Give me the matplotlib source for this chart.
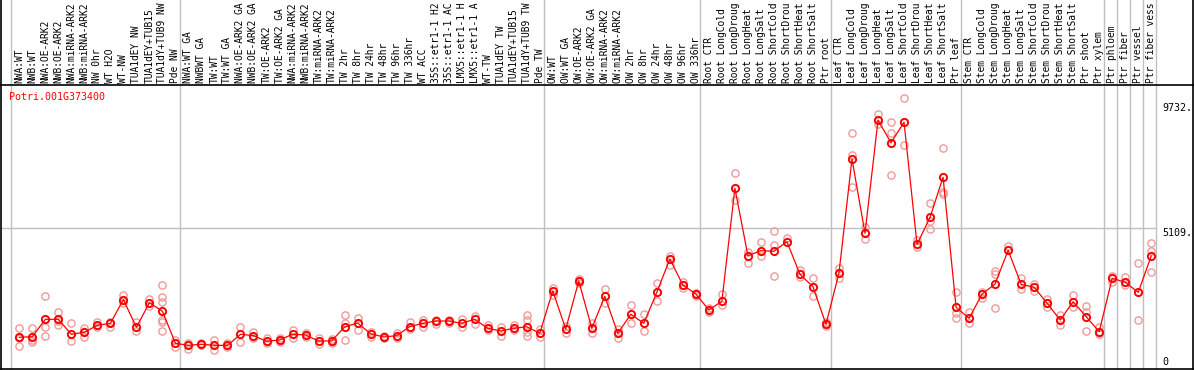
import numpy as np
import matplotlib
matplotlib.use("Agg")
import matplotlib.pyplot as plt
import matplotlib.transforms as mtransforms

gene = "Potri.001G373400"

# sample names as they show in the header (cut to 14 characters)
samples = [
    # NW group
    "NWA:WT", "NWB:WT", "NWA:OE-ARK2", "NWB:OE-ARK2", "NWA:miRNA-ARK2", "NWB:miRNA-ARK2",
    "NW 0hr", "WT H2O", "WT-NW", "TUA1dEY NW", "TUA1dEY+TUB15", "TUA1dY+TUB9 NW", "Pde NW",
    # TW group
    "NWA:WT GA", "NWBWT GA", "TW:WT", "TW:WT GA", "NWA:OE-ARK2 GA", "NWB:OE-ARK2 GA",
    "TW:OE-ARK2", "TW:OE-ARK2 GA", "NWA:miRNA-ARK2", "NWB:miRNA-ARK2", "TW:miRNA-ARK2",
    "TW:miRNA-ARK2", "TW 2hr", "TW 8hr", "TW 24hr", "TW 48hr", "TW 96hr", "TW 336hr", "WT ACC",
    "35S::etr1-1 H2", "35S::etr1-1 AC", "LMX5::etr1-1 H", "LMX5::etr1-1 A", "WT-TW",
    "TUA1dEY TW", "TUA1dEY+TUB15", "TUA1dY+TUB9 TW", "Pde TW",
    # OW group
    "OW:WT", "OW:WT GA", "OW:OE-ARK2", "OW:OE-ARK2 GA", "OW:miRNA-ARK2", "OW:miRNA-ARK2",
    "OW 2hr", "OW 8hr", "OW 24hr", "OW 48hr", "OW 96hr", "OW 336hr",
    # root
    "Root CTR", "Root LongCold", "Root LongDroug", "Root LongHeat", "Root LongSalt",
    "Root ShortCold", "Root ShortDrou", "Root ShortHeat", "Root ShortSalt", "Ptr root",
    # leaf
    "Leaf CTR", "Leaf LongCold", "Leaf LongDroug", "Leaf LongHeat", "Leaf LongSalt",
    "Leaf ShortCold", "Leaf ShortDrou", "Leaf ShortHeat", "Leaf ShortSalt", "Ptr leaf",
    # stem
    "Stem CTR", "Stem LongCold", "Stem LongDroug", "Stem LongHeat", "Stem LongSalt",
    "Stem ShortCold", "Stem ShortDrou", "Stem ShortHeat", "Stem ShortSalt", "Ptr shoot", "Ptr xylem",
    "Ptr phloem", "Ptr fiber", "Ptr vessel", "Ptr fiber vess",
]
group_sizes = [13, 28, 12, 10, 10, 11, 1, 1, 1, 1]

means = [
    1100, 1122, 1762, 1760, 1210, 1284, 1541, 1615, 2483, 1468, 2372, 2056, 879,
    805, 842, 805, 800, 1210, 1159, 953, 1000, 1210, 1184, 964, 964, 1479, 1626,
    1232, 1111, 1159, 1490, 1615, 1699, 1699, 1615, 1762, 1431, 1331, 1431, 1490, 1247,
    2803, 1405, 3170, 1431, 2608, 1247, 1946, 1615, 2755, 3980, 3023, 2692,
    2104, 2424, 6580, 4101, 4285, 4263, 4616, 3417, 2961, 1578,
    3465, 7658, 4925, 9081, 8257, 9007, 4520, 5513, 6985, 2203,
    1799, 2692, 3060, 4300, 3049, 2939, 2350, 1736, 2409, 1857, 1306,
    3270, 3123, 2755, 4090,
]

replicates = [
    [1431, 791, 1080], [1431, 916, 1000], [2608, 1468, 1159], [2041, 1541, 1700],
    [1626, 975], [1442, 1122], [1673, 1468], [1490, 1662], [2656, 2350], [1651, 1320],
    [2497, 2251], [3012, 2593, 2387, 1736, 1651, 1320], [1000, 732],
    [879, 669], [879, 805], [1011, 644], [879, 754], [1468, 938], [1306, 1063],
    [1063, 879], [1063, 938], [1368, 1063], [1247, 1122], [1063, 842], [1026, 901],
    [1909, 1615, 1000], [1799, 1368], [1306, 1122], [1148, 1063], [1269, 1063],
    [1651, 1394], [1736, 1490], [1736, 1578], [1736, 1615], [1773, 1490], [1883, 1578],
    [1552, 1368], [1468, 1148], [1552, 1368], [1920, 1736, 1306, 1148], [1394, 1100],
    [2924, 2656], [1515, 1247], [3244, 3086], [1615, 1269], [2865, 2350], [1394, 1063],
    [2288, 1615], [1946, 1320], [3086, 2446], [4101, 3759], [3145, 2924], [2740, 2630],
    [2166, 2041], [2692, 2288],
    [7132, 6150], [4248, 3843], [4594, 4101], [5009, 4494, 3354], [4741], [3575, 3307],
    [3270, 2619], [1651, 1515], [3649, 3270], [8603, 7805, 6617],
    [5168, 4715], [9313, 8934], [9007, 8603, 7058], [9901, 8173], [4678, 4432],
    [6028, 5377, 5072], [8051, 6455, 6370], [2755, 2004, 1799],
    [2041, 1615], [2777, 2534], [3538, 3417, 2166], [4458], [3292, 2876], [3049, 2803],
    [2508, 2225], [1909, 1552], [2656, 2225], [2251, 2041, 1331], [1468, 1210],
    [3354, 3123], [3329, 3023], [3821, 1736], [4557, 4285, 3490],
]

right_ticks = [9732, 5109, 0]
right_tick_labels = ["9732.", "5109.", "0"]

W, H = 1194, 370
fig = plt.figure(figsize=(W / 100, H / 100), dpi=100)
# plot box in pixels: x 1..1193, y 85..368.5 (from top)
ax = fig.add_axes([1 / W, (H - 368.5) / H, 1192 / W, (368.5 - 85) / H])
x = np.arange(len(samples))
ax.set_xlim(-1.407, 90.21)
ax.set_ylim(-48, 10379)
ax.set_xticks([])
ax.set_yticks([])
for s in ax.spines.values():
    s.set_color("black")
    s.set_linewidth(1.2)

fig_top = 368.5 / (368.5 - 85)  # figure top in axes fraction

# group separators
bounds = [-0.65] + [c - 1 + 0.35 for c in np.cumsum(group_sizes)]
for b in bounds:
    ax.axvline(b, ymin=0, ymax=fig_top, color="#c0c0c0", lw=1.0, clip_on=False, zorder=0)
# left / right borders through label area
for side in (0, 1):
    ax.plot([side, side], [1, fig_top], transform=ax.transAxes, color="black",
            lw=1.2, clip_on=False)

# horizontal grid at middle tick
ax.plot([-1.407, bounds[-1]], [5109, 5109], color="#c0c0c0", lw=1.0, zorder=0)

# replicates
rx = np.concatenate([[i] * len(r) for i, r in enumerate(replicates)])
ry = np.concatenate(replicates)
ax.plot(rx, ry, linestyle="none", marker="o", ms=5.2, mfc="none",
        mec="#ef9a9a", mew=1.0, zorder=2)

# means
ax.plot(x, means, color="#ff0000", lw=0.9, zorder=3)
ax.plot(x, means, linestyle="none", marker="o", ms=5.2, mfc="none",
        mec="#ff0000", mew=1.4, zorder=4)

# sample labels
mono = "DejaVu Sans Mono"
lab_tr = mtransforms.blended_transform_factory(ax.transData, ax.transAxes)
for i, name in enumerate(samples):
    ax.text(i, 1.007, name, transform=lab_tr, rotation=90, ha="center", va="bottom",
            fontsize=6.9, family=mono, clip_on=False)

# gene name
ax.text(8 / 1192, (368.5 - 97) / 283.5, gene, transform=ax.transAxes, color="red",
        fontsize=7.2, family=mono, va="center", ha="left")

# right value labels
tr = mtransforms.blended_transform_factory(ax.transAxes, ax.transData)
for v, lab in zip(right_ticks, right_tick_labels):
    ax.text((1162 - 1) / 1192, v, lab, transform=tr, fontsize=7.2, family=mono,
            ha="left", va="bottom" if v == 0 else "top")

fig.savefig("out.png", dpi=100)
